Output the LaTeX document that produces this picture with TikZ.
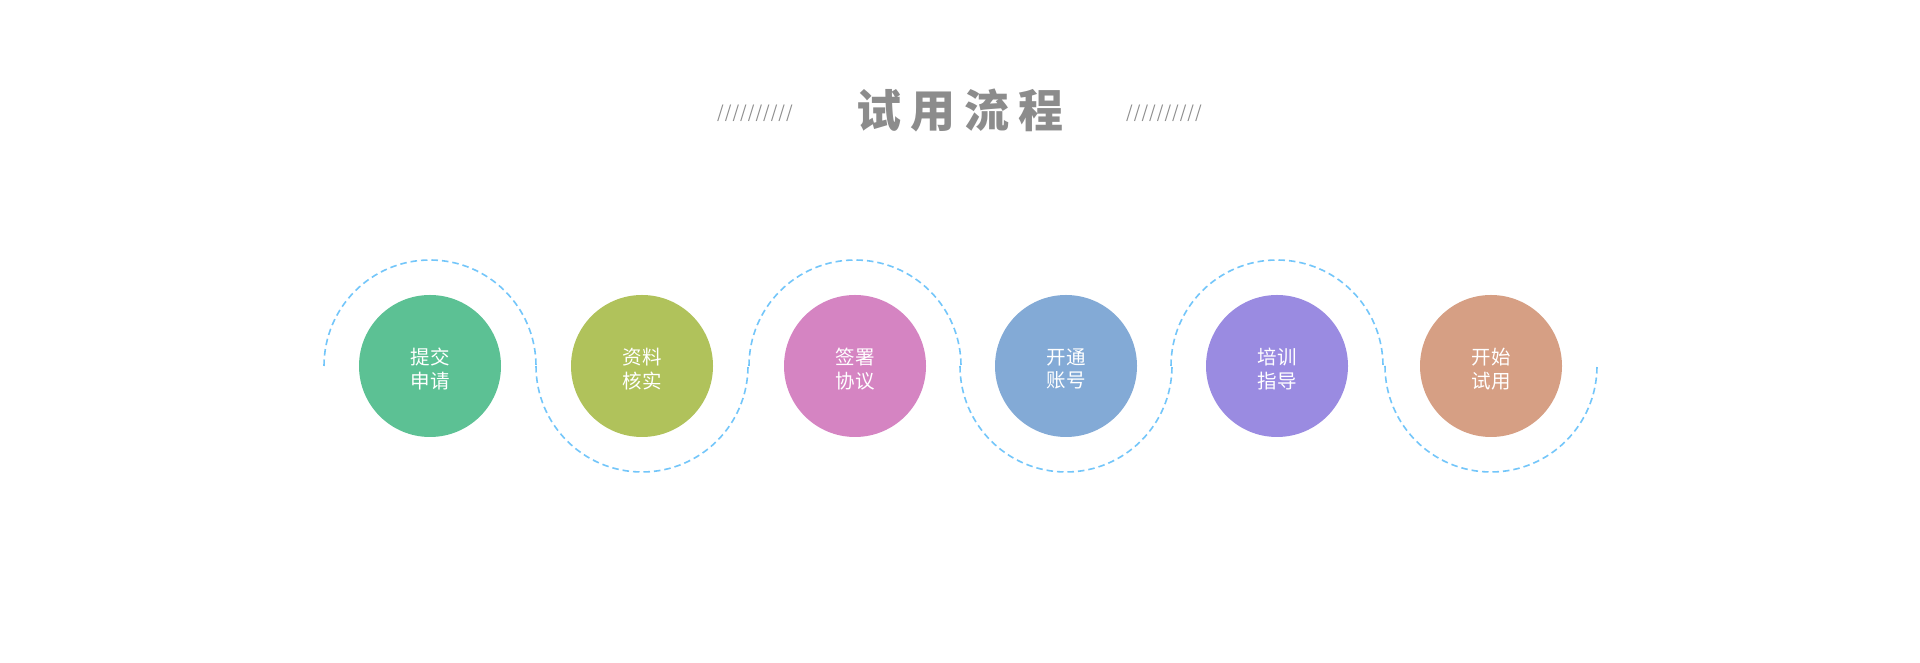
\documentclass[tikz,border=0pt]{standalone}
\usepackage{fontspec}
\setmainfont{Noto Sans CJK SC}
\definecolor{cA}{RGB}{92,193,148}
\definecolor{cB}{RGB}{176,194,91}
\definecolor{cC}{RGB}{213,132,194}
\definecolor{cD}{RGB}{131,170,214}
\definecolor{cE}{RGB}{154,139,225}
\definecolor{cF}{RGB}{214,159,132}
\definecolor{dashblue}{RGB}{115,198,250}
\definecolor{titlegray}{RGB}{140,140,140}
\tikzset{
  stepcircle/.style={circle, minimum size=142pt, inner sep=0pt, text=white,
    align=center, font=\fontsize{19.5}{23.5}\selectfont},
  steptext/.style={text=white, align=center, inner sep=0pt, font=\fontsize{19.5}{23.5}\selectfont},
  wave/.style={draw=dashblue, line width=1.6pt, dash pattern=on 6.5pt off 4pt},
  slashes/.style={text=titlegray, font=\fontsize{17}{17}\selectfont\itshape, inner sep=0pt},
}
\begin{document}
\begin{tikzpicture}[x=1pt,y=1pt]
\useasboundingbox[fill=white] (0,0) rectangle (1920,663);
% title
\node[text=titlegray, inner sep=0pt, font=\fontsize{45}{45}\bfseries\selectfont] (title) at (960,553)
  {试\hspace{9pt}用\hspace{9pt}流\hspace{9pt}程};
\node[slashes] (sl) at (755,550) {/\kern1pt/\kern1pt/\kern1pt/\kern1pt/\kern1pt/\kern1pt/\kern1pt/\kern1pt/\kern1pt/};
\node[slashes] (sr) at (1164,550) {/\kern1pt/\kern1pt/\kern1pt/\kern1pt/\kern1pt/\kern1pt/\kern1pt/\kern1pt/\kern1pt/};
% steps
\node[stepcircle, fill=cA] (s1) at (430,297)  {};
\node[stepcircle, fill=cB] (s2) at (642,297)  {};
\node[stepcircle, fill=cC] (s3) at (855,297)  {};
\node[stepcircle, fill=cD] (s4) at (1066,297) {};
\node[stepcircle, fill=cE] (s5) at (1277,297) {};
\node[stepcircle, fill=cF] (s6) at (1491,297) {};
\node[steptext] (t1) at ([yshift=-3pt]s1.center) {提交\\申请};
\node[steptext] (t2) at ([yshift=-3pt]s2.center) {资料\\核实};
\node[steptext] (t3) at ([yshift=-3pt]s3.center) {签署\\协议};
\node[steptext] (t4) at ([yshift=-3pt]s4.center) {开通\\账号};
\node[steptext] (t5) at ([yshift=-3pt]s5.center) {培训\\指导};
\node[steptext] (t6) at ([yshift=-3pt]s6.center) {开始\\试用};
% dashed wave
\draw[wave] ([xshift=-106pt]s1.center) arc[start angle=180, end angle=0, radius=106];
\draw[wave] ([xshift=-106pt]s2.center) arc[start angle=180, end angle=360, radius=106];
\draw[wave] ([xshift=-106pt]s3.center) arc[start angle=180, end angle=0, radius=106];
\draw[wave] ([xshift=-106pt]s4.center) arc[start angle=180, end angle=360, radius=106];
\draw[wave] ([xshift=-106pt]s5.center) arc[start angle=180, end angle=0, radius=106];
\draw[wave] ([xshift=-106pt]s6.center) arc[start angle=180, end angle=360, radius=106];
\end{tikzpicture}
\end{document}
